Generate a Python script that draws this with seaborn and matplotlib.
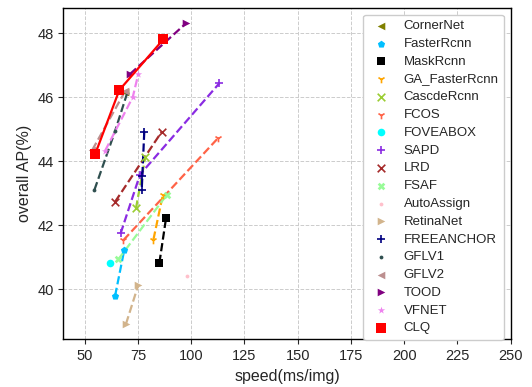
import numpy as np
import pandas as pd
import seaborn as sns
import matplotlib.pyplot as plt

sns.set_style("ticks")
plt.rcParams['font.family'] = ['Liberation Sans', 'DejaVu Sans']

# speed (ms/img) and AP values
names = ['CornerNet', 'FasterRcnn', 'MaskRcnn', 'GA_FasterRcnn', 'CascdeRcnn',
         'FCOS', 'FOVEABOX', 'SAPD', 'LRD', 'FSAF', 'AutoAssign', 'RetinaNet',
         'FREEANCHOR', 'GFLV1', 'GFLV2', 'TOOD', 'VFNET', 'CLQ']

speed_cornernet = [69.0]
ap_cornernet = [46.15]
speed_faster = [64.3, 68.6]
ap_faster = [39.79, 41.22]
speed_mask = [85.1, 88.2]
ap_mask = [40.82, 42.21]
speed_ga = [82.3, 86.7]
ap_ga = [41.55, 42.94]
speed_cascade = [74.1, 78.5]
ap_cascade = [42.52, 44.13]
speed_fcos = [68.2, 112.5]
ap_fcos = [41.53, 44.71]
speed_fovea = [61.9]
ap_fovea = [40.82]
speed_sapd = [66.9, 76.0, 113.2]
ap_sapd = [41.74, 43.58, 46.43]
speed_lrd = [64.3, 86.2]
ap_lrd = [42.73, 44.92]
speed_fsaf = [65.8, 88.5]
ap_fsaf = [40.93, 42.94]
speed_autoassign = [97.9]
ap_autoassign = [40.41]
speed_retina = [69.4, 75.2]
ap_retina = [38.91, 40.13]
speed_freeanchor = [78.0, 77.1, 76.8]
ap_freeanchor = [44.92, 43.55, 43.1]
speed_gflv1 = [54.6, 64.3, 70.0]
ap_gflv1 = [43.1, 44.94, 46.13]
speed_gflv2 = [53.6, 69.0]
ap_gflv2 = [44.35, 46.18]
speed_tood = [71.3, 97.5]
ap_tood = [46.72, 48.3]
speed_vfnet = [59.6, 72.6, 75.2]
ap_vfnet = [44.32, 46.0, 46.72]
speed_clq = [54.9, 66.3, 86.9]
ap_clq = [44.21, 46.22, 47.8]

speeds = [speed_cornernet, speed_faster, speed_mask, speed_ga, speed_cascade,
          speed_fcos, speed_fovea, speed_sapd, speed_lrd, speed_fsaf,
          speed_autoassign, speed_retina, speed_freeanchor, speed_gflv1,
          speed_gflv2, speed_tood, speed_vfnet, speed_clq]
aps = [ap_cornernet, ap_faster, ap_mask, ap_ga, ap_cascade, ap_fcos, ap_fovea,
       ap_sapd, ap_lrd, ap_fsaf, ap_autoassign, ap_retina, ap_freeanchor,
       ap_gflv1, ap_gflv2, ap_tood, ap_vfnet, ap_clq]

colors = ['olive', 'deepskyblue', 'black', 'orange', 'yellowgreen', 'tomato',
          'cyan', 'blueviolet', 'brown', 'palegreen', 'pink', 'tan', 'navy',
          'darkslategray', 'rosybrown', 'purple', 'violet', 'red']
markers = ['<', 'p', 's', '1', 'x', '1', 'o', '+', 'x', 'X', '.', '>', '+',
           '.', '<', '>', '*', 's']

fig = plt.figure(figsize=(5.32, 3.87), dpi=100)
ax = fig.add_axes([0.119, 0.123, 0.841, 0.856])

for name, xs, ys, c, m in zip(names, speeds, aps, colors, markers):
    df = pd.DataFrame({'speed': xs, 'ap': ys})
    clq = name == 'CLQ'
    if len(xs) > 1:
        sns.lineplot(data=df, x='speed', y='ap', sort=False, color=c,
                     linestyle='-' if clq else '--', linewidth=1.6,
                     legend=False, ax=ax, zorder=5 if clq else 2)
    sns.scatterplot(data=df, x='speed', y='ap', marker=m, color=c,
                    s=50 if clq else 30, linewidth=1.2 if m in '+x1' else 0,
                    label=name, ax=ax, zorder=6 if clq else 3)

ax.set_xlim(40, 250)
ax.set_ylim(38.43, 48.78)
ax.set_xticks(np.arange(50, 251, 25))
ax.set_yticks(np.arange(40, 49, 2))
ax.grid(True, linestyle='--', color='#cccccc', linewidth=0.7)
ax.tick_params(labelsize=10.5)
for sp in ax.spines.values():
    sp.set_color('black')
    sp.set_linewidth(1.0)
ax.set_xlabel('speed(ms/img)', fontsize=11.5)
ax.set_ylabel('overall AP(%)', fontsize=11.5)

ax.legend(loc='upper right', fontsize=9.5, markerscale=1.0,
          labelspacing=0.42, handletextpad=0.7, borderaxespad=0.5,
          framealpha=1)

fig.savefig('out.png', dpi=100)
